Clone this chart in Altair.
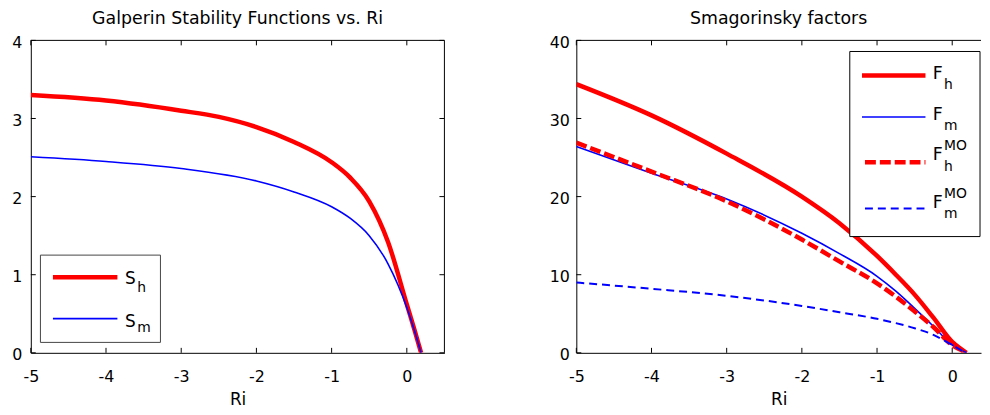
import altair as alt
import pandas as pd

# ---------------- data ----------------
# Left panel: Galperin stability functions
ri_sh = [-5, -4, -3, -2.5, -2, -1.5, -1, -0.75, -0.5, -0.25, 0, 0.1, 0.19]
s_h = [3.30, 3.23, 3.10, 3.02, 2.89, 2.70, 2.44, 2.24, 1.94, 1.42, 0.62, 0.30, 0.0]
ri_sm = [-5, -4, -3, -2, -1.5, -1, -0.75, -0.5, -0.25, 0, 0.1, 0.19]
s_m = [2.51, 2.45, 2.36, 2.20, 2.06, 1.87, 1.72, 1.50, 1.14, 0.58, 0.29, 0.0]

# Right panel: Smagorinsky factors
ri_f = [-5, -4, -3, -2, -1.5, -1, -0.75, -0.5, -0.25, 0, 0.1, 0.19]
f_h = [34.4, 30.4, 25.5, 20.0, 16.6, 12.4, 10.0, 7.45, 4.5, 1.4, 0.6, 0.0]
f_m = [26.4, 23.0, 19.7, 15.3, 12.7, 9.8, 7.9, 5.7, 3.4, 1.0, 0.45, 0.0]
f_h_mo = [26.9, 23.2, 19.4, 14.5, 11.7, 8.9, 7.2, 5.3, 3.3, 1.0, 0.45, 0.0]
f_m_mo = [9.0, 8.2, 7.3, 6.0, 5.2, 4.35, 3.8, 3.15, 2.3, 1.0, 0.45, 0.0]

x_ticks = [-5, -4, -3, -2, -1, 0]
y_ticks_left = [0, 1, 2, 3, 4]
y_ticks_right = [0, 10, 20, 30, 40]

title_left = "Galperin Stability Functions vs. Ri"
title_right = "Smagorinsky factors"
x_title = "Ri"

FONT = "DejaVu Sans"
RED = "#ff0000"
BLUE = "#0000ff"

one = pd.DataFrame({"a": [0]})


def lg_box(x0, x1, y0, y1, stroke):
    return alt.Chart(one).mark_rect(fill="white", stroke=stroke, strokeWidth=1).encode(
        x=alt.value(x0), x2=alt.value(x1), y=alt.value(y0), y2=alt.value(y1))


def lg_line(x0, x1, y, color, sw, dash):
    kw = dict(color=color, strokeWidth=sw)
    if dash:
        kw["strokeDash"] = dash
    return alt.Chart(one).mark_rule(**kw).encode(
        x=alt.value(x0), x2=alt.value(x1), y=alt.value(y))


def lg_text(txt, x, y, size):
    return alt.Chart(one).mark_text(text=txt, font=FONT, fontSize=size, align="left",
                                    baseline="alphabetic", color="black").encode(
        x=alt.value(x), y=alt.value(y))


def build_panel(series, xdom, ydom, yticks, width, height, title, legend, right_frame,
                y_minext, y_labpad):
    xs = alt.Scale(domain=xdom, nice=False, zero=False)
    ys = alt.Scale(domain=ydom, nice=False, zero=False)
    xaxis = alt.Axis(values=x_ticks, title=x_title, labelExpr="toString(datum.value)",
                     labelPadding=15.5, titlePadding=8, labelFlush=False)
    yaxis = alt.Axis(values=yticks, title=None, labelExpr="toString(datum.value)",
                     labelPadding=y_labpad, minExtent=y_minext, labelFlush=False,
                     labelOffset=2)

    def X(f):
        return alt.X(f, scale=xs, axis=xaxis)

    def Y(f):
        return alt.Y(f, scale=ys, axis=yaxis)

    layers = []
    for xv, yv, color, sw, dash in series:
        mk = dict(color=color, strokeWidth=sw, clip=True, interpolate="monotone")
        if dash:
            mk["strokeDash"] = dash
        layers.append(alt.Chart(pd.DataFrame({"Ri": xv, "v": yv})).mark_line(**mk)
                      .encode(x=X("Ri:Q"), y=Y("v:Q")))

    tx = pd.DataFrame({"t": x_ticks})
    ty = pd.DataFrame({"t": yticks})
    rule = dict(color="black", strokeWidth=1)
    # inward ticks
    layers.append(alt.Chart(tx).mark_rule(**rule).encode(
        x=X("t:Q"), y=alt.value(height), y2=alt.value(height - 5)))
    layers.append(alt.Chart(tx).mark_rule(**rule).encode(
        x=X("t:Q"), y=alt.value(0), y2=alt.value(5)))
    layers.append(alt.Chart(ty).mark_rule(**rule).encode(
        y=Y("t:Q"), x=alt.value(0), x2=alt.value(5)))
    # top frame
    layers.append(alt.Chart(pd.DataFrame({"t": [ydom[1]]})).mark_rule(**rule).encode(
        y=Y("t:Q")))
    if right_frame:
        layers.append(alt.Chart(ty).mark_rule(**rule).encode(
            y=Y("t:Q"), x=alt.value(width - 5), x2=alt.value(width)))
        layers.append(alt.Chart(pd.DataFrame({"t": [xdom[1]]})).mark_rule(**rule).encode(
            x=X("t:Q")))

    layers.extend(legend)
    return alt.layer(*layers).properties(
        width=width, height=height,
        title=alt.TitleParams(title, font=FONT, fontSize=17.5, fontWeight="normal",
                              color="black", anchor="middle", offset=7))


# ---------------- left panel ----------------
left_series = [
    (ri_sh, s_h, RED, 4.5, None),
    (ri_sm, s_m, BLUE, 1.6, None),
]
left_legend = [
    lg_box(9.7, 130.7, 216.5, 304.5, "#444444"),
    lg_line(22.3, 87.3, 238.8, RED, 4.5, None),
    lg_text("S", 95, 245.5, 17),
    lg_text("h", 107.3, 253.5, 14),
    lg_line(22.3, 87.3, 280.5, BLUE, 1.6, None),
    lg_text("S", 95, 288.5, 17),
    lg_text("m", 107.3, 294.5, 14),
]
left = build_panel(left_series, [-5, 0.5], [0, 4], y_ticks_left, 417, 315, title_left,
                   left_legend, True, 23, 9)

# ---------------- right panel ----------------
right_series = [
    (ri_f, f_h, RED, 4.5, None),
    (ri_f, f_m, BLUE, 1.6, None),
    (ri_f, f_h_mo, RED, 4.5, [11, 4]),
    (ri_f, f_m_mo, BLUE, 2, [8, 5]),
]
right_legend = [
    lg_box(275.7, 407, 11.2, 197.8, "black"),
    lg_line(288, 352, 35.5, RED, 4.5, None),
    lg_text("F", 359.3, 38.8, 17.5),
    lg_text("h", 370.7, 48.8, 14),
    lg_line(288, 352, 77.2, BLUE, 1.6, None),
    lg_text("F", 359.3, 80.5, 17.5),
    lg_text("m", 370.7, 90.5, 14),
    lg_line(291, 352, 122.8, RED, 4.5, [11, 4]),
    lg_text("F", 359.3, 120.5, 17.5),
    lg_text("MO", 370.7, 110.5, 14),
    lg_text("h", 370.7, 131.2, 14),
    lg_line(291, 352, 169.5, BLUE, 2, [8, 5]),
    lg_text("F", 359.3, 168.8, 17.5),
    lg_text("MO", 370.7, 158.5, 14),
    lg_text("m", 370.7, 178.8, 14),
]
right = build_panel(right_series, [-5, 0.383], [0, 40], y_ticks_right, 408, 315, title_right,
                    right_legend, False, 30, 7)

chart = alt.hconcat(left, right, spacing=102).properties(
    padding={"left": 0, "top": 0, "right": 0, "bottom": 0}
).configure_view(stroke=None).configure_axis(
    domainColor="black", domainWidth=1, ticks=False, grid=False,
    labelFont=FONT, labelFontSize=16, labelColor="black",
    titleFont=FONT, titleFontSize=17, titleFontWeight="normal", titleColor="black",
)

chart.save("out.html", embed_options={"renderer": "svg", "actions": False})
